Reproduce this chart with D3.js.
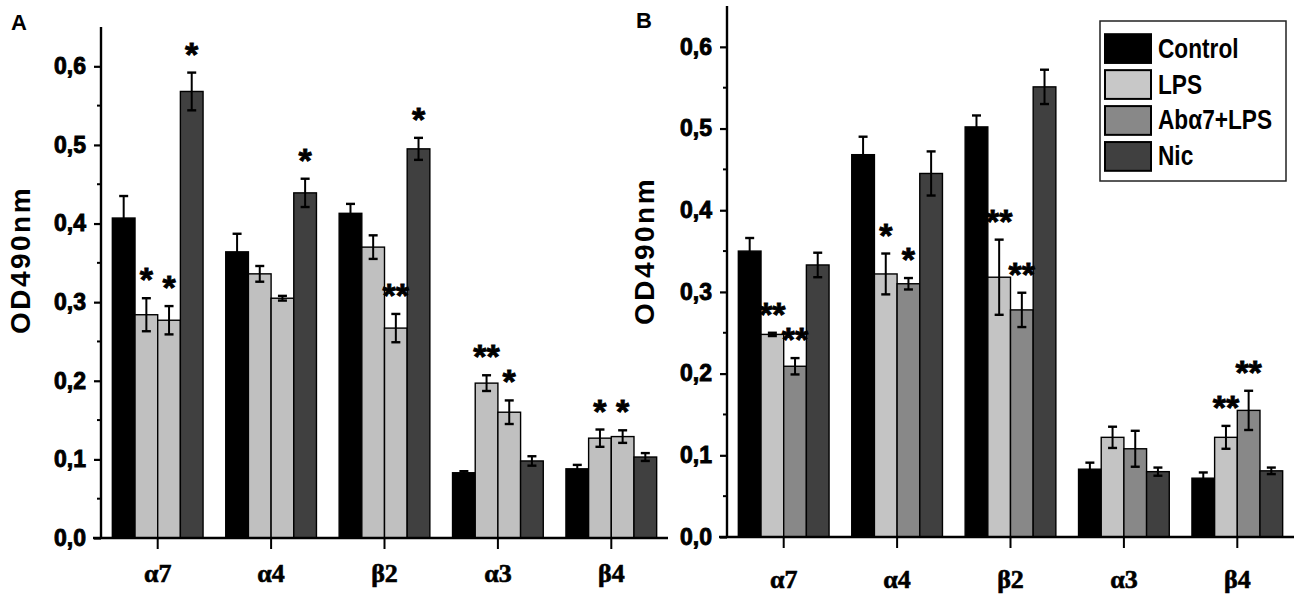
<!DOCTYPE html>
<html><head><meta charset="utf-8">
<script src="https://cdn.jsdelivr.net/npm/d3@7"></script>
<style>
html,body{margin:0;padding:0;background:#fff;}
svg{display:block;}
</style></head>
<body>
<svg id="chart" width="1300" height="599"></svg>
<script>
// ---------- data ----------
const categories = ["α7", "α4", "β2", "α3", "β4"];
const seriesNames = ["Control", "LPS", "Abα7+LPS", "Nic"];
const yTicks = [0, 0.1, 0.2, 0.3, 0.4, 0.5, 0.6];
const yTickLabels = ["0,0", "0,1", "0,2", "0,3", "0,4", "0,5", "0,6"];

// Panel A
const aControl = [0.407, 0.364, 0.413, 0.083, 0.088];
const aLPS     = [0.284, 0.336, 0.370, 0.197, 0.127];
const aAb      = [0.277, 0.305, 0.267, 0.160, 0.129];
const aNic     = [0.568, 0.439, 0.495, 0.098, 0.103];
const aControlErr = [0.028, 0.023, 0.012, 0.002, 0.005];
const aLPSErr     = [0.021, 0.010, 0.015, 0.010, 0.011];
const aAbErr      = [0.018, 0.003, 0.018, 0.015, 0.008];
const aNicErr     = [0.024, 0.018, 0.014, 0.006, 0.005];
const aControlSig = ["", "", "", "", ""];
const aLPSSig     = ["*", "", "", "**", "*"];
const aAbSig      = ["*", "", "**", "*", "*"];
const aNicSig     = ["*", "*", "*", "", ""];

// Panel B
const bControl = [0.350, 0.468, 0.502, 0.083, 0.072];
const bLPS     = [0.248, 0.322, 0.318, 0.122, 0.122];
const bAb      = [0.209, 0.310, 0.278, 0.108, 0.155];
const bNic     = [0.333, 0.445, 0.551, 0.080, 0.081];
const bControlErr = [0.016, 0.022, 0.014, 0.008, 0.007];
const bLPSErr     = [0.002, 0.025, 0.046, 0.013, 0.014];
const bAbErr      = [0.010, 0.007, 0.021, 0.022, 0.024];
const bNicErr     = [0.015, 0.027, 0.021, 0.005, 0.004];
const bControlSig = ["", "", "", "", ""];
const bLPSSig     = ["**", "*", "**", "", "**"];
const bAbSig      = ["**", "*", "**", "", "**"];
const bNicSig     = ["", "", "", "", ""];

// ---------- drawing ----------
const svg = d3.select("#chart");
const SANS = "'Liberation Sans', Arial, Helvetica, sans-serif";
const SERIF = "'Liberation Serif', 'Times New Roman', serif";

function buildPanel(means, errs, sigs) {
  const rows = [];
  categories.forEach((c, i) => {
    seriesNames.forEach((s, j) => {
      rows.push({cat: c, series: s, v: means[j][i], e: errs[j][i], sig: sigs[j][i]});
    });
  });
  return rows;
}

function drawPanel(cfg) {
  const g = svg.append("g");
  const x = d3.scaleBand().domain(categories).range(cfg.xRange).paddingInner(0).paddingOuter(0);
  const inner = d3.scaleBand().domain(seriesNames)
      .range([x.bandwidth() * 0.1, x.bandwidth() * 0.9]).padding(0);
  const y = d3.scaleLinear().domain([0, 0.65]).range(cfg.yRange);
  const rows = buildPanel(cfg.means, cfg.errs, cfg.sigs);
  const color = d3.scaleOrdinal().domain(seriesNames).range(cfg.colors);

  // bars
  g.selectAll("rect.bar").data(rows).join("rect")
    .attr("x", d => x(d.cat) + inner(d.series))
    .attr("y", d => y(d.v))
    .attr("width", inner.bandwidth())
    .attr("height", d => y(0) - y(d.v))
    .attr("fill", d => color(d.series))
    .attr("stroke", "#000").attr("stroke-width", 1.4);

  // error bars
  const eb = g.selectAll("g.err").data(rows).join("g")
    .attr("transform", d => `translate(${x(d.cat) + inner(d.series) + inner.bandwidth() / 2},0)`);
  eb.append("line").attr("x1", 0).attr("x2", 0)
    .attr("y1", d => y(d.v + d.e)).attr("y2", d => y(d.v - d.e))
    .attr("stroke", "#000").attr("stroke-width", 2);
  eb.append("line").attr("x1", -4.5).attr("x2", 4.5)
    .attr("y1", d => y(d.v + d.e)).attr("y2", d => y(d.v + d.e))
    .attr("stroke", "#000").attr("stroke-width", 2.4);
  eb.append("line").attr("x1", -4.5).attr("x2", 4.5)
    .attr("y1", d => y(d.v - d.e)).attr("y2", d => y(d.v - d.e))
    .attr("stroke", "#000").attr("stroke-width", 2.4);

  // significance
  g.selectAll("text.sig").data(rows.filter(d => d.sig)).join("text")
    .attr("x", d => x(d.cat) + inner(d.series) + inner.bandwidth() / 2)
    .attr("y", d => y(d.v + d.e) - 7)
    .attr("text-anchor", "middle")
    .attr("font-family", SANS).attr("font-weight", "bold")
    .attr("font-size", 34)
    .attr("letter-spacing", 0)
    .attr("fill", "#000").attr("stroke", "#000").attr("stroke-width", 0.8)
    .text(d => d.sig);

  // y axis
  const yAxis = d3.axisLeft(y).tickValues(yTicks).tickSize(7).tickPadding(8)
    .tickFormat((d, i) => yTickLabels[i]);
  const ya = g.append("g").attr("transform", `translate(${cfg.xRange[0]},0)`).call(yAxis);
  ya.select(".domain").attr("stroke-width", 2.4).attr("d", `M0,${y(0)}V${y(0.65)}`);
  ya.selectAll(".tick line").attr("stroke-width", 2.2);
  ya.selectAll(".tick text").attr("font-family", SANS).attr("font-weight", "bold")
    .attr("font-size", 23).attr("fill", "#000")
    .attr("stroke", "#000").attr("stroke-width", 0.9);
  // minor ticks
  const minor = d3.range(0.05, 0.65, 0.1);
  ya.selectAll("line.minor").data(minor).join("line")
    .attr("x1", -4).attr("x2", 0).attr("y1", d => y(d)).attr("y2", d => y(d))
    .attr("stroke", "#000").attr("stroke-width", 2);

  // x axis
  const xAxis = d3.axisBottom(x).tickSize(11).tickPadding(cfg.xPad).tickSizeOuter(0);
  const xa = g.append("g").attr("transform", `translate(0,${y(0)})`).call(xAxis);
  xa.select(".domain").attr("stroke-width", 2.6)
    .attr("d", `M${cfg.xRange[0] - 8},0H${cfg.xRange[1]}`);
  xa.selectAll(".tick line").attr("stroke-width", 2);
  xa.selectAll(".tick text").attr("font-family", SERIF).attr("font-weight", "bold")
    .attr("font-size", 26).attr("fill", "#000")
    .attr("stroke", "#000").attr("stroke-width", 0.6);

  // y label
  g.append("text")
    .attr("transform", `translate(${cfg.yLabelPos[0]},${cfg.yLabelPos[1]}) rotate(-90)`)
    .attr("text-anchor", "middle").attr("dominant-baseline", "central")
    .attr("font-family", SANS).attr("font-weight", "bold").attr("font-size", 28)
    .attr("letter-spacing", 2.5)
    .attr("fill", "#000").text("OD490nm");

  // panel letter
  g.append("text").attr("x", cfg.letterPos[0]).attr("y", cfg.letterPos[1])
    .attr("font-family", SANS).attr("font-size", 22).attr("font-weight", "bold")
    .attr("fill", "#000").text(cfg.letter);
  return {x, y};
}

drawPanel({
  letter: "A", letterPos: [11, 30],
  xRange: [101, 668], yRange: [538, 27], xPad: 15,
  yLabelPos: [20, 260],
  means: [aControl, aLPS, aAb, aNic],
  errs: [aControlErr, aLPSErr, aAbErr, aNicErr],
  sigs: [aControlSig, aLPSSig, aAbSig, aNicSig],
  colors: ["#000000", "#c0c0c0", "#c0c0c0", "#404040"]
});

drawPanel({
  letter: "B", letterPos: [636, 28],
  xRange: [727, 1294], yRange: [537, 6], xPad: 22,
  yLabelPos: [644, 251],
  means: [bControl, bLPS, bAb, bNic],
  errs: [bControlErr, bLPSErr, bAbErr, bNicErr],
  sigs: [bControlSig, bLPSSig, bAbSig, bNicSig],
  colors: ["#000000", "#c4c4c4", "#888888", "#404040"]
});

// legend
const legendColors = ["#000000", "#c8c8c8", "#888888", "#404040"];
const lg = svg.append("g").attr("transform", "translate(1100,21)");
lg.append("rect").attr("x", 0).attr("y", 0).attr("width", 186).attr("height", 160)
  .attr("fill", "#fff").attr("stroke", "#222").attr("stroke-width", 1.5);
const rowY = d3.scaleBand().domain(seriesNames).range([6, 157]).padding(0.2);
const li = lg.selectAll("g.li").data(seriesNames).join("g")
  .attr("transform", d => `translate(0,${rowY(d)})`);
li.append("rect").attr("x", 5).attr("y", 0).attr("width", 46).attr("height", rowY.bandwidth())
  .attr("fill", (d, i) => legendColors[i]).attr("stroke", "#000").attr("stroke-width", 2);
li.append("text")
  .attr("transform", `translate(58,${rowY.bandwidth() / 2 + 9}) scale(0.84,1)`)
  .attr("font-family", SANS).attr("font-weight", "bold").attr("font-size", 27)
  .attr("fill", "#000").text(d => d);
</script>
</body></html>
